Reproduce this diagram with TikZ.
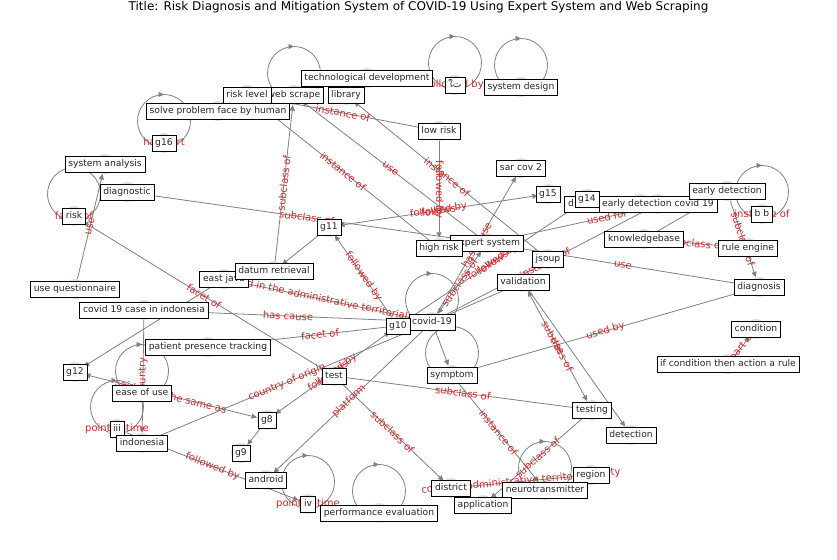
\documentclass[tikz,border=0pt]{standalone}
\usepackage{fontspec}
\setmainfont{DejaVu Sans}
\newfontfamily\thaifont[Script=Thai]{Loma}
\newfontfamily\arabicfont[Script=Arabic]{DejaVu Sans}
\usetikzlibrary{arrows.meta,decorations.markings,calc}
\definecolor{elabc}{RGB}{214,39,40}
\definecolor{ecol}{RGB}{128,128,128}
\definecolor{ncol}{RGB}{222,222,222}
\begin{document}
\begin{tikzpicture}[x=1pt,y=1pt,
  vtx/.style={circle,fill=ncol,minimum size=20pt,inner sep=0pt},
  lbl/.style={draw=black,fill=white,line width=0.7pt,inner xsep=3.3pt,inner ysep=3.4pt,text height=7.2pt,text depth=2pt,font=\fontsize{9.2}{10}\selectfont,text=black!85},
  edge/.style={draw=ecol,line width=0.8pt,-{Triangle[length=5.5pt,width=5pt]}},
  edgeb/.style={draw=ecol,line width=0.8pt,{Triangle[length=5.5pt,width=5pt]}-{Triangle[length=5.5pt,width=5pt]}},
  el/.style={text=elabc,font=\fontsize{10}{11}\selectfont,inner sep=0pt,sloped},
  ell/.style={text=elabc,font=\fontsize{10}{11}\selectfont,inner sep=0pt},
  loopl/.style={draw=ecol,line width=0.8pt,decoration={markings,mark=at position 0.5 with {\arrow{Triangle[length=5.5pt,width=5pt]}}},postaction={decorate}}
]
\useasboundingbox[fill=white] (0,0) rectangle (837,559);
\newcommand{\selfloop}[1]{\draw[loopl] ($(#1)+(0,22)+(250:26.5pt)$) arc[start angle=250,end angle=-70,radius=26.5pt];}
% vertices
\node[vtx] (td) at (367,481) {};
\node[vtx] (rl) at (247,464) {};
\node[vtx] (ws) at (294,464) {};
\node[vtx] (lib) at (346,464) {};
\node[vtx] (sp) at (218,448) {};
\node[vtx] (g16) at (164,416) {};
\node[vtx] (lr) at (439,428) {};
\node[vtx] (th) at (455,474) {};
\node[vtx] (sd) at (521,472) {};
\node[vtx] (sc) at (521,391) {};
\node[vtx] (g15) at (548,365) {};
\node[vtx] (dd) at (640,355) {};
\node[vtx] (edc) at (658,355) {};
\node[vtx] (g14) at (587,360) {};
\node[vtx] (ed) at (727,368) {};
\node[vtx] (bb) at (762,345) {};
\node[vtx] (sa) at (105,395) {};
\node[vtx] (dg) at (127,367) {};
\node[vtx] (rk) at (74,343) {};
\node[vtx] (g11) at (329,332) {};
\node[vtx] (hr) at (439,311) {};
\node[vtx] (es) at (487,316) {};
\node[vtx] (js) at (548,300) {};
\node[vtx] (kb) at (644,320) {};
\node[vtx] (re) at (748,311) {};
\node[vtx] (val) at (523,277) {};
\node[vtx] (dn) at (759,272) {};
\node[vtx] (dr) at (274,288) {};
\node[vtx] (ej) at (224,280) {};
\node[vtx] (uq) at (75,270) {};
\node[vtx] (cci) at (144,249) {};
\node[vtx] (g10) at (398,233) {};
\node[vtx] (cv) at (432,237) {};
\node[vtx] (ppt) at (208,212) {};
\node[vtx] (cond) at (756,230) {};
\node[vtx] (ifc) at (728,195) {};
\node[vtx] (g12) at (75,187) {};
\node[vtx] (sym) at (452,184) {};
\node[vtx] (tst) at (334,183) {};
\node[vtx] (eou) at (142,166) {};
\node[vtx] (g8) at (267,139) {};
\node[vtx] (iii) at (117,130) {};
\node[vtx] (ind) at (142,116) {};
\node[vtx] (g9) at (241,106) {};
\node[vtx] (tsg) at (592,149) {};
\node[vtx] (det) at (631,124) {};
\node[vtx] (reg) at (591,84) {};
\node[vtx] (andr) at (266,79) {};
\node[vtx] (dst) at (451,71) {};
\node[vtx] (nt) at (545,69) {};
\node[vtx] (app) at (483,54) {};
\node[vtx] (iv) at (308,55) {};
\node[vtx] (pe) at (379,46) {};
% edges
\draw[edge] (uq) -- node[el] {use} (sa);
\draw[edge] (dg) -- node[el] {subclass of} (es);
\draw[edge] (dr) -- node[el] {subclass of} (ws);
\draw[edge] (g11) -- (dr);
\draw[edgeb] (g11) -- node[el] {followed by} node[el] {follows} (g15);
\draw[edge] (lr) -- node[el] {followed by} (hr);
\draw[edge] (lr) -- node[el] {instance of} (rl);
\draw[edge] (hr) -- node[el] {instance of} (rl);
\draw[edge] (js) -- node[el] {instance of} (lib);
\draw[edge] (es) -- node[el] {use} (ws);
\draw[edge] (g10) -- node[el] {followed by} (g11);
\draw[edge] (tst) -- node[el] {facet of} (rk);
\draw[edge] (ej) -- node[el] {located in the administrative territorial entity} (cv);
\draw[edge] (cci) -- node[el] {has cause} (cv);
\draw[edge] (ppt) -- node[el] {facet of} (cv);
\draw[edge] (ej) -- (g12);
\draw[edgeb] (g12) -- node[el] {said to be the same as} (g8);
\draw[edge] (cci) -- node[el] {country} (ind);
\draw[edge] (cv) -- node[el] {country of origin} (ind);
\draw[edge] (iii) -- node[el] {followed by} (iv);
\draw[edge] (g8) -- (g9);
\draw[edgeb] (g8) -- node[el] {followed by} node[el] {follows} (g10);
\draw[edge] (tst) -- node[el] {subclass of} (tsg);
\draw[edge] (tst) -- node[el] {subclass of} (dst);
\draw[edge] (cv) -- node[el] {platform} (andr);
\draw[edge] (sym) -- node[el] {instance of} (nt);
\draw[edge] (tsg) -- node[el] {subclass of} (app);
\draw[edge] (cv) -- (sym);
\draw[edge] (sym) -- node[el] {used by} (dn);
\draw[edge] (es) -- node[el] {use} (dn);
\draw[edge] (es) -- node[el] {used for} (ed);
\draw[edge] (cv) -- node[el] {instance of} (edc);
\draw[edge] (kb) -- (ed);
\draw[edge] (re) -- node[el] {subclass of} (kb);
\draw[edge] (ed) -- node[el] {subclass of} (dn);
\draw[edge] (ifc) -- node[el] {part of} (cond);
\draw[edgeb] (val) -- node[el] {use} node[el] {subclass of} (tsg);
\draw[edge] (val) -- (det);
\draw[edgeb] (cv) -- node[el] {subclass of} (es);
\draw[edge] (cv) -- node[el] {has cause} (sc);
\draw[edgeb] (g10) -- node[el] {followed by} node[el] {follows} (g14);
\draw[edge] (dst) -- node[el] {contains administrative territorial entity} (reg);
\draw[edge] (cv) -- (val);
% self loops
\selfloop{ws}
\selfloop{g16}
\selfloop{th}
\selfloop{sd}
\selfloop{rk}
\selfloop{bb}
\selfloop{cv}
\selfloop{sym}
\selfloop{eou}
\selfloop{iii}
\selfloop{iv}
\selfloop{pe}
\selfloop{nt}
\node[ell] (l1) at (g16) {has part};
\node[ell] (l2) at (rk) {facet of};
\node[ell] (l3) at (bb) {instance of};
\node[ell] (l4) at (iii) {point in time};
\node[ell] (l5) at (iv) {point in time};
\node[ell] (l6) at (th) {followed by};
% labels
\node[lbl] (tws) at (ws) {web scrape};
\node[lbl] (trl) at (rl) {risk level};
\node[lbl] (tlib) at (lib) {library};
\node[lbl] (ttd) at (td) {technological development};
\node[lbl] (tsp) at (sp) {solve problem face by human};
\node[lbl] (tg16) at (g16) {g16};
\node[lbl] (tlr) at (lr) {low risk};
\node[lbl] (tth) at (th) {{\thaifont ใ}{\arabicfont ت}};
\node[lbl] (tsd) at (sd) {system design};
\node[lbl] (tsc) at (sc) {sar cov 2};
\node[lbl] (tg15) at (g15) {g15};
\node[lbl,text width=50pt,align=left] (tdd) at (593,355) {d};
\node[lbl] (tedc) at (edc) {early detection covid 19};
\node[lbl] (tg14) at (g14) {g14};
\node[lbl] (ted) at (ed) {early detection};
\node[lbl] (tbb) at (bb) {b b};
\node[lbl] (tsa) at (sa) {system analysis};
\node[lbl] (tdg) at (dg) {diagnostic};
\node[lbl] (trk) at (rk) {risk};
\node[lbl] (tg11) at (g11) {g11};
\node[lbl] (tes) at (es) {expert system};
\node[lbl] (thr) at (hr) {high risk};
\node[lbl] (tjs) at (js) {jsoup};
\node[lbl] (tkb) at (kb) {knowledgebase};
\node[lbl] (tre) at (re) {rule engine};
\node[lbl] (tval) at (val) {validation};
\node[lbl] (tdn) at (dn) {diagnosis};
\node[lbl] (tej) at (ej) {east java};
\node[lbl] (tdr) at (dr) {datum retrieval};
\node[lbl] (tuq) at (uq) {use questionnaire};
\node[lbl] (tcci) at (cci) {covid 19 case in indonesia};
\node[lbl] (tcv) at (cv) {covid-19};
\node[lbl] (tg10) at (g10) {g10};
\node[lbl] (tppt) at (ppt) {patient presence tracking};
\node[lbl] (tcond) at (cond) {condition};
\node[lbl] (tifc) at (ifc) {if condition then action a rule};
\node[lbl] (tg12) at (g12) {g12};
\node[lbl] (tsym) at (sym) {symptom};
\node[lbl] (ttst) at (tst) {test};
\node[lbl] (teou) at (eou) {ease of use};
\node[lbl] (tg8) at (g8) {g8};
\node[lbl] (tiii) at (iii) {iii};
\node[lbl] (tind) at (ind) {indonesia};
\node[lbl] (tg9) at (g9) {g9};
\node[lbl] (ttsg) at (tsg) {testing};
\node[lbl] (tdet) at (det) {detection};
\node[lbl] (treg) at (reg) {region};
\node[lbl] (tandr) at (andr) {android};
\node[lbl] (tdst) at (dst) {district};
\node[lbl] (tnt) at (nt) {neurotransmitter};
\node[lbl] (tapp) at (app) {application};
\node[lbl] (tiv) at (iv) {iv};
\node[lbl] (tpe) at (pe) {performance evaluation};
\node[font=\fontsize{12}{14}\selectfont,text=black] (title) at (418.5,552) {Title: Risk Diagnosis and Mitigation System of COVID-19 Using Expert System and Web Scraping};
\end{tikzpicture}
\end{document}
